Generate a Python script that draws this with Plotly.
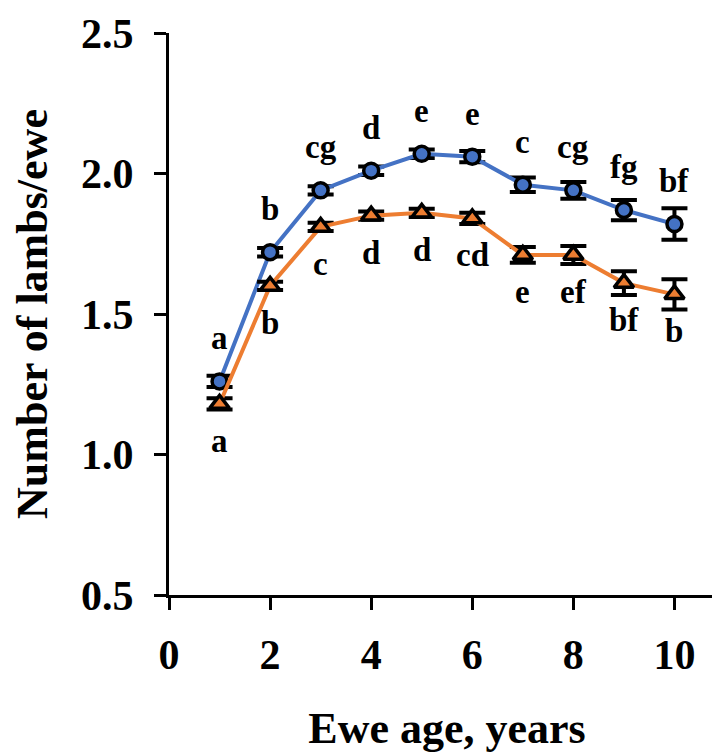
import plotly.graph_objects as go

ages = [1, 2, 3, 4, 5, 6, 7, 8, 9, 10]
blue_vals = [1.26, 1.72, 1.94, 2.01, 2.07, 2.06, 1.96, 1.94, 1.87, 1.82]
blue_err = [0.02, 0.015, 0.015, 0.015, 0.015, 0.02, 0.026, 0.03, 0.036, 0.056]
blue_letters = ["a", "b", "cg", "d", "e", "e", "c", "cg", "fg", "bf"]
orange_vals = [1.18, 1.60, 1.81, 1.85, 1.86, 1.84, 1.71, 1.71, 1.61, 1.57]
orange_err = [0.02, 0.015, 0.015, 0.015, 0.015, 0.02, 0.028, 0.032, 0.042, 0.054]
orange_letters = ["a", "b", "c", "d", "d", "cd", "e", "ef", "bf", "b"]

x_ticks = [0, 2, 4, 6, 8, 10]
y_ticks = [0.5, 1.0, 1.5, 2.0, 2.5]
y_tick_text = ["0.5", "1.0", "1.5", "2.0", "2.5"]

FONT = "Liberation Serif, Times New Roman, serif"
BLUE = "#4472C4"
ORANGE = "#ED7D31"

fig = go.Figure()

fig.add_trace(go.Scatter(
    x=ages, y=blue_vals, mode="lines+markers",
    line=dict(color=BLUE, width=4),
    marker=dict(symbol="circle", size=15, color=BLUE, line=dict(color="black", width=3.5)),
    error_y=dict(type="data", array=blue_err, visible=True, color="black", thickness=4, width=13),
    showlegend=False,
))
fig.add_trace(go.Scatter(
    x=ages, y=orange_vals, mode="lines+markers",
    line=dict(color=ORANGE, width=4),
    marker=dict(symbol="triangle-up", size=17, color=ORANGE, line=dict(color="black", width=3.5)),
    error_y=dict(type="data", array=orange_err, visible=True, color="black", thickness=4, width=13),
    showlegend=False,
))

for xv, yv, t in zip(ages, blue_vals, blue_letters):
    fig.add_annotation(x=xv, y=yv, text=t, showarrow=False, yshift=43,
                       font=dict(family=FONT, size=33, color="black", weight="bold"))
for xv, yv, t in zip(ages, orange_vals, orange_letters):
    fig.add_annotation(x=xv, y=yv, text=t, showarrow=False, yshift=-37,
                       font=dict(family=FONT, size=33, color="black", weight="bold"))

fig.update_layout(
    width=720, height=753,
    margin=dict(l=161, r=3, t=17, b=166),
    plot_bgcolor="white", paper_bgcolor="white",
    font=dict(family=FONT, color="black"),
)
fig.update_xaxes(
    range=[0, 11], tickvals=x_ticks, ticks="outside", ticklen=12, tickwidth=3,
    tickcolor="black", showline=True, linewidth=3, linecolor="black",
    showgrid=False, zeroline=False, ticklabeloverflow="allow",
    tickfont=dict(family=FONT, size=42, color="black", weight="bold"),
    ticklabelstandoff=9,
    title=dict(text="Ewe age, years", standoff=35,
               font=dict(family=FONT, size=44, color="black", weight="bold")),
)
fig.update_yaxes(
    range=[0.5, 2.5], tickvals=y_ticks, ticktext=y_tick_text, ticks="outside",
    ticklen=12, tickwidth=3, tickcolor="black", showline=True, linewidth=3,
    linecolor="black", showgrid=False, zeroline=False, ticklabeloverflow="allow",
    tickfont=dict(family=FONT, size=42, color="black", weight="bold"),
    ticklabelstandoff=12,
    title=dict(text="Number of lambs/ewe", standoff=34,
               font=dict(family=FONT, size=44, color="black", weight="bold")),
)

fig.write_html("out.html")
